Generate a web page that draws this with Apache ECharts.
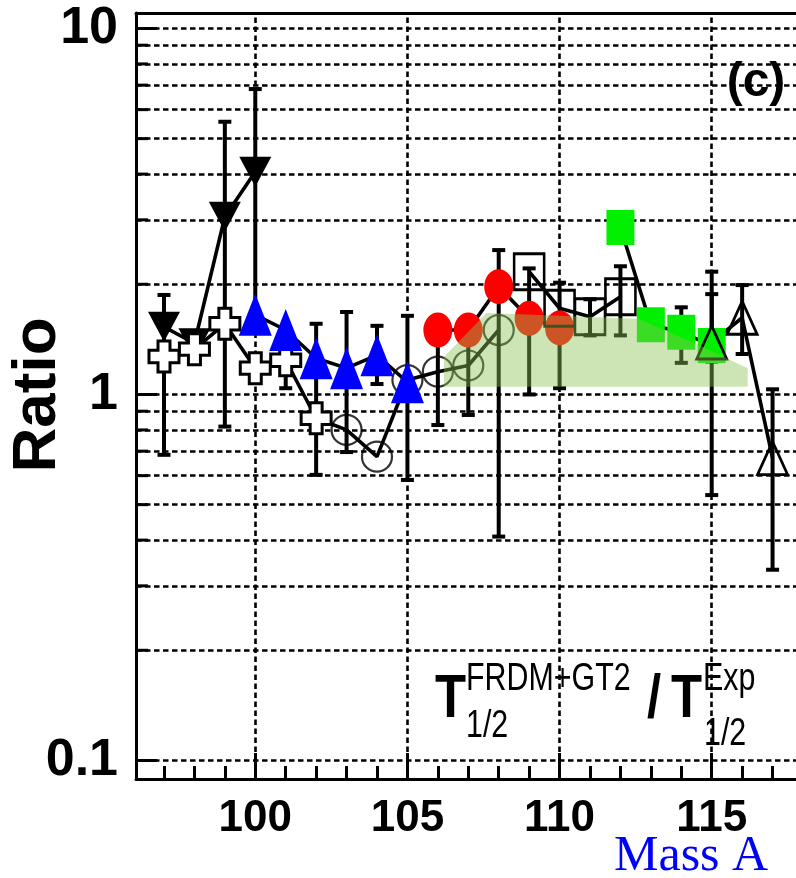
<!DOCTYPE html>
<html><head><meta charset="utf-8">
<script src="https://cdn.jsdelivr.net/npm/echarts@6/dist/echarts.min.js"></script>
<style>html,body{margin:0;padding:0;background:#fff}#c{width:796px;height:878px}</style>
</head><body><div id="c"></div>
<script>
// ---- axes ----
const xMin = 96.08, xMax = 117.77;
const yMin = 0.089, yMax = 11.02;
const xTickMajor = [100, 105, 110, 115];
const xTickMinor = [97,98,99,100,101,102,103,104,105,106,107,108,109,110,111,112,113,114,115,116,117];
const yTickMinor = [0.2,0.3,0.4,0.5,0.6,0.7,0.8,0.9,2,3,4,5,6,7,8,9];
const yGridValues = [0.1,0.2,0.3,0.4,0.5,0.6,0.7,0.8,0.9,1,2,3,4,5,6,7,8,9,10];
const xGridValues = [100, 105, 110, 115];

// ---- data ----
const massDown = [97, 98, 99, 100];
const ratioDown = [1.53, 1.38, 3.06, 4.06];
const massCross = [97, 98, 99, 100, 101, 102];
const ratioCross = [1.27, 1.33, 1.56, 1.18, 1.24, 0.861];
const massBlue = [100, 101, 102, 103, 104, 105];
const ratioBlue = [1.65, 1.50, 1.256, 1.18, 1.28, 1.08];
const massCircle = [103, 104, 105, 106, 107, 108];
const ratioCircle = [0.80, 0.676, 1.095, 1.154, 1.20, 1.50];
const massRed = [106, 107, 108, 109, 110];
const ratioRed = [1.50, 1.50, 1.97, 1.615, 1.52];
const massSquare = [109, 110, 111, 112];
const ratioSquare = [2.165, 1.72, 1.63, 1.85];
const massGreen = [112, 113, 114, 115];
const ratioGreen = [2.86, 1.55, 1.48, 1.36];
const massOpenTri = [115, 116, 117];
const ratioOpenTri = [1.387, 1.62, 0.67];

const errMass = [97, 99, 100, 101, 102, 103, 104, 105, 106, 107, 108, 109, 110, 111, 112, 114, 115, 115, 116, 117];
const errLow  = [0.684, 0.817, 1.65, 1.04, 0.603, 0.696, 1.068, 0.584, 0.825, 0.879, 0.409, 1.0, 1.04, 1.45, 1.45, 1.22, 0.531, 1.23, 1.29, 0.332];
const errHigh = [1.87, 5.56, 6.83, 1.42, 1.56, 1.68, 1.54, 1.64, 1.50, 1.50, 2.48, 2.21, 2.02, 1.82, 2.24, 1.73, 2.165, 1.88, 1.99, 1.033];

const bandMass = [106.2, 107.6, 110, 112.6, 114.5, 116.18];
const bandUpper = [1.266, 1.67, 1.64, 1.61, 1.374, 1.18];
const bandLower = 1.05;

const pairs = (xs, ys) => xs.map((x, i) => [x, ys[i]]);
const FONT = '"Liberation Sans", Arial, sans-serif';
const chart = echarts.init(document.getElementById('c'), null, {renderer: 'canvas'});

const gridLine = {color: '#000', width: 2.6, type: [5.5, 3.5]};
const LW = 3.6;

function txt(t, x, y, font, opts) {
  return Object.assign({type: 'text', x: x, y: y, z: 20,
    style: {text: t, font: font, fill: '#000', textAlign: 'left', textVerticalAlign: 'middle'}}, opts || {});
}

const option = {
  animation: false,
  backgroundColor: '#fff',
  grid: {left: 136, right: 0, top: 13, bottom: 99, containLabel: false},
  xAxis: [
    {type: 'value', min: xMin, max: xMax, position: 'bottom',
     axisLine: {show: true, onZero: false, lineStyle: {color: '#000', width: 3}},
     axisTick: {show: true, inside: true, length: 26, customValues: xTickMajor, lineStyle: {color: '#000', width: 3}},
     axisLabel: {show: true, customValues: xTickMajor, margin: 18, color: '#000',
                 fontFamily: FONT, fontWeight: 'bold', fontSize: 44},
     splitLine: {show: false}},
    {type: 'value', min: xMin, max: xMax, position: 'bottom',
     axisLine: {show: false},
     axisTick: {show: true, inside: true, length: 13, customValues: xTickMinor, lineStyle: {color: '#000', width: 3}},
     axisLabel: {show: false}, splitLine: {show: false}},
    {type: 'value', min: xMin, max: xMax, position: 'top',
     axisLine: {show: true, onZero: false, lineStyle: {color: '#000', width: 3}},
     axisTick: {show: false}, axisLabel: {show: false}, splitLine: {show: false}}
  ],
  yAxis: [
    {type: 'log', logBase: 10, min: yMin, max: yMax, position: 'left',
     axisLine: {show: true, onZero: false, lineStyle: {color: '#000', width: 3}},
     axisTick: {show: true, inside: true, length: 21, lineStyle: {color: '#000', width: 3}},
     axisLabel: {show: true, margin: 18, color: '#000', fontFamily: FONT, fontWeight: 'bold', fontSize: 52,
       formatter: function (v) {
         const l = Math.log10(v);
         if (Math.abs(l - Math.round(l)) < 1e-6) { const r = Math.round(l); return r < 0 ? '0.1' : String(Math.pow(10, r)); }
         return '';
       }},
     splitLine: {show: false}, minorTick: {show: false}}
  ],
  graphic: [
    txt('Ratio', 38, 395, 'bold 62px ' + FONT, {rotation: Math.PI / 2,
      style: {text: 'Ratio', font: 'bold 62px ' + FONT, fill: '#000', textAlign: 'center', textVerticalAlign: 'middle'}}),
    txt('(c)', 756, 83, 'bold 48px ' + FONT, {
      style: {text: '(c)', font: 'bold 48px ' + FONT, fill: '#000', textAlign: 'center', textVerticalAlign: 'middle'}}),
    txt('Mass A', 614, 857, '50px "Liberation Serif", "Times New Roman", serif', {
      style: {text: 'Mass A', font: '50px "Liberation Serif", "Times New Roman", serif', fill: '#0000ff', textAlign: 'left', textVerticalAlign: 'middle'}}),
    txt('T', 435, 700, 'bold 62px ' + FONT, {scaleX: 0.82}),
    txt('FRDM+GT2', 466, 680, '38px ' + FONT, {scaleX: 0.8}),
    txt('1/2', 466, 727, '38px ' + FONT, {scaleX: 0.8}),
    txt('/', 647, 700, 'bold 62px ' + FONT, {scaleX: 0.82}),
    txt('T', 671, 700, 'bold 62px ' + FONT, {scaleX: 0.82}),
    txt('Exp', 703, 680, '38px ' + FONT, {scaleX: 0.8}),
    txt('1/2', 704, 735, '38px ' + FONT, {scaleX: 0.8})
  ],
  series: [
    // grid lines
    {type: 'scatter', data: [], z: 1, silent: true,
     markLine: {silent: true, symbol: ['none', 'none'], label: {show: false}, lineStyle: gridLine,
       emphasis: {disabled: true},
       data: yGridValues.map(v => ({yAxis: v})).concat(xGridValues.map(v => ({xAxis: v})))}},
    // minor y ticks (inward, on left axis)
    {type: 'custom', z: 2, silent: true,
     data: yTickMinor.map(v => [xMin, v]),
     encode: {x: 0, y: 1},
     renderItem: function (params, api) {
       const p = api.coord([api.value(0), api.value(1)]);
       return {type: 'line', shape: {x1: p[0], y1: p[1], x2: p[0] + 12, y2: p[1]}, style: {stroke: '#000', lineWidth: 3}};
     }},
    // error bars
    {type: 'custom', z: 3, silent: true,
     data: errMass.map((m, i) => [m, errLow[i], errHigh[i]]),
     encode: {x: 0, y: [1, 2]},
     renderItem: function (params, api) {
       const x = api.value(0);
       const lo = api.coord([x, api.value(1)]);
       const hi = api.coord([x, api.value(2)]);
       const w = 6.5;
       return {type: 'group', children: [
         {type: 'line', shape: {x1: lo[0], y1: lo[1], x2: hi[0], y2: hi[1]}, style: {stroke: '#000', lineWidth: 4}},
         {type: 'line', shape: {x1: lo[0] - w, y1: lo[1], x2: lo[0] + w, y2: lo[1]}, style: {stroke: '#000', lineWidth: 4}},
         {type: 'line', shape: {x1: hi[0] - w, y1: hi[1], x2: hi[0] + w, y2: hi[1]}, style: {stroke: '#000', lineWidth: 4}}
       ]};
     }},
    // black down triangles
    {type: 'line', z: 4, data: pairs(massDown, ratioDown),
     lineStyle: {color: '#000', width: LW}, symbol: 'triangle', symbolRotate: 180, symbolSize: [32, 30],
     itemStyle: {color: '#000'}},
    // connecting line: crosses + open circles
    {type: 'line', z: 4, data: pairs(massCross, ratioCross).concat(pairs(massCircle, ratioCircle)),
     lineStyle: {color: '#000', width: LW}, symbol: 'none'},
    // open crosses (marker shape drawn around the scaled data point)
    {type: 'custom', z: 5, silent: true, data: pairs(massCross, ratioCross),
     encode: {x: 0, y: 1},
     renderItem: function (params, api) {
       const p = api.coord([api.value(0), api.value(1)]);
       const W = 15, H = 15.5, a = 6, b = 6.2;
       const pts = [[-a,-H],[a,-H],[a,-b],[W,-b],[W,b],[a,b],[a,H],[-a,H],[-a,b],[-W,b],[-W,-b],[-a,-b]]
         .map(q => [p[0] + q[0], p[1] + q[1]]);
       return {type: 'polygon', shape: {points: pts}, style: {fill: '#fff', stroke: '#000', lineWidth: 3}};
     }},
    // open circles
    {type: 'scatter', z: 5, data: pairs(massCircle, ratioCircle),
     symbol: 'circle', symbolSize: 30,
     itemStyle: {color: 'rgba(255,255,255,0)', borderColor: '#000', borderWidth: 2.2}},
    // blue triangles
    {type: 'line', z: 6, data: pairs(massBlue, ratioBlue),
     lineStyle: {color: '#000', width: LW}, symbol: 'triangle', symbolSize: [33, 42],
     itemStyle: {color: '#0000ff'}},
    // red circles
    {type: 'line', z: 6, data: pairs(massRed, ratioRed),
     lineStyle: {color: '#000', width: LW}, symbol: 'circle', symbolSize: [29, 35],
     itemStyle: {color: '#ff0000'}},
    // open squares
    {type: 'line', z: 6, data: pairs(massSquare, ratioSquare),
     lineStyle: {color: '#000', width: LW}, symbol: 'rect', symbolSize: [30, 36],
     itemStyle: {color: 'rgba(255,255,255,0)', borderColor: '#000', borderWidth: 2.8}},
    // green squares
    {type: 'line', z: 7, data: pairs(massGreen, ratioGreen),
     lineStyle: {color: '#000', width: LW}, symbol: 'rect', symbolSize: [28, 35],
     itemStyle: {color: '#00f000'}},
    // open triangles
    {type: 'line', z: 7, data: pairs(massOpenTri, ratioOpenTri),
     lineStyle: {color: '#000', width: LW}, symbol: 'triangle', symbolSize: [30, 33],
     itemStyle: {color: 'rgba(255,255,255,0)', borderColor: '#000', borderWidth: 2.8}},
    // green band
    {type: 'custom', z: 9, silent: true,
     data: bandMass.map((m, i) => [m, bandUpper[i], bandLower]),
     encode: {x: 0, y: [1, 2]},
     renderItem: function (params, api) {
       if (params.dataIndex !== 0) return null;
       const pts = bandMass.map((m, i) => api.coord([m, bandUpper[i]]));
       pts.push(api.coord([bandMass[bandMass.length - 1], bandLower]));
       pts.push(api.coord([bandMass[0], bandLower]));
       return {type: 'polygon', shape: {points: pts}, style: {fill: 'rgba(140,195,83,0.43)'}};
     }}
  ]
};
chart.setOption(option);
</script>
</body></html>
